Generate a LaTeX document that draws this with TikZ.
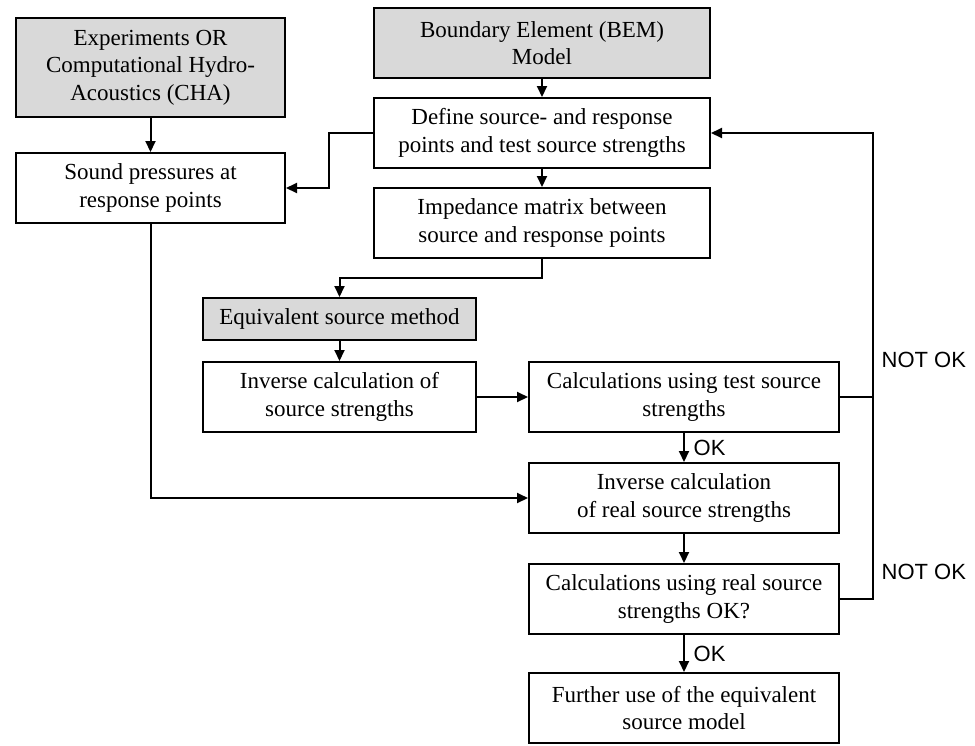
\documentclass[tikz,border=0pt]{standalone}
\usepackage{fontspec}
\setmainfont{Liberation Serif}
\setsansfont{Liberation Sans}
\usetikzlibrary{positioning, calc, arrows.meta}
\definecolor{boxgray}{HTML}{D9D9D9}

\begin{document}
\begin{tikzpicture}[x=0.5pt, y=-0.5pt, line width=1pt,
  >={Triangle[length=5.5pt, width=5pt]},
  box/.style={draw, align=center, minimum height=35pt, inner sep=2pt,
    font=\fontsize{11.5}{13.8}\selectfont},
  grey/.style={box, fill=boxgray},
  lbl/.style={font=\sffamily\fontsize{11}{13}\selectfont}]
\useasboundingbox (0,0) rectangle (975,745);
% nodes
\node[grey, minimum width=134.5pt, minimum height=49.5pt] (cha) at (150.5, 67.5) {Experiments OR\\Computational Hydro-\\Acoustics (CHA)};
\node[grey, minimum width=168pt] (bem) at (542, 43) {Boundary Element (BEM)\\Model};
\node[box, minimum width=168pt] (define) at (542, 133) {Define source- and response\\points and test source strengths};
\node[box, minimum width=134.5pt] (sound) at (150.5, 188) {Sound pressures at\\response points};
\node[box, minimum width=168pt] (imped) at (542, 223) {Impedance matrix between\\source and response points};
\node[grey, minimum width=136.5pt, minimum height=21pt] (esm) at (339.5, 319) {Equivalent source method};
\node[box, minimum width=136.5pt] (inv) at (339.5, 397) {Inverse calculation of\\source strengths};
\node[box, minimum width=155pt] (test) at (684, 397) {Calculations using test source\\strengths};
\node[box, minimum width=155pt] (real) at (684, 498) {Inverse calculation\\of real source strengths};
\node[box, minimum width=155pt] (check) at (684, 599) {Calculations using real source\\strengths OK?};
\node[box, minimum width=155pt] (further) at (684, 708) {Further use of the equivalent\\source model};
\coordinate (rt) at (873, 133);
\node[lbl, anchor=west] (nok1) at (874, 360) {NOT OK};
\node[lbl, anchor=west] (nok2) at (874, 572) {NOT OK};
% arrows
\draw[->] (cha) -- (sound);
\draw[->] (bem) -- (define);
\draw[->] (define) -- (imped);
\draw[->] (define.west) -- ++(-44, 0) |- (sound.east);
\draw[->] (imped.south) -- ++(0, 19) -| (esm.north);
\draw[->] (esm) -- (inv);
\draw[->] (inv) -- (test);
\draw[->] (test) -- (real) node[lbl, midway, right, xshift=1pt]{OK};
\draw[->] (sound.south) |- (real.west);
\draw[->] (real) -- (check);
\draw[->] (check) -- (further) node[lbl, midway, right, xshift=1pt]{OK};
\draw (test.east) -- (test.east -| rt);
\draw[->] (check.east) -| (rt) -- (define.east);
\end{tikzpicture}
\end{document}
